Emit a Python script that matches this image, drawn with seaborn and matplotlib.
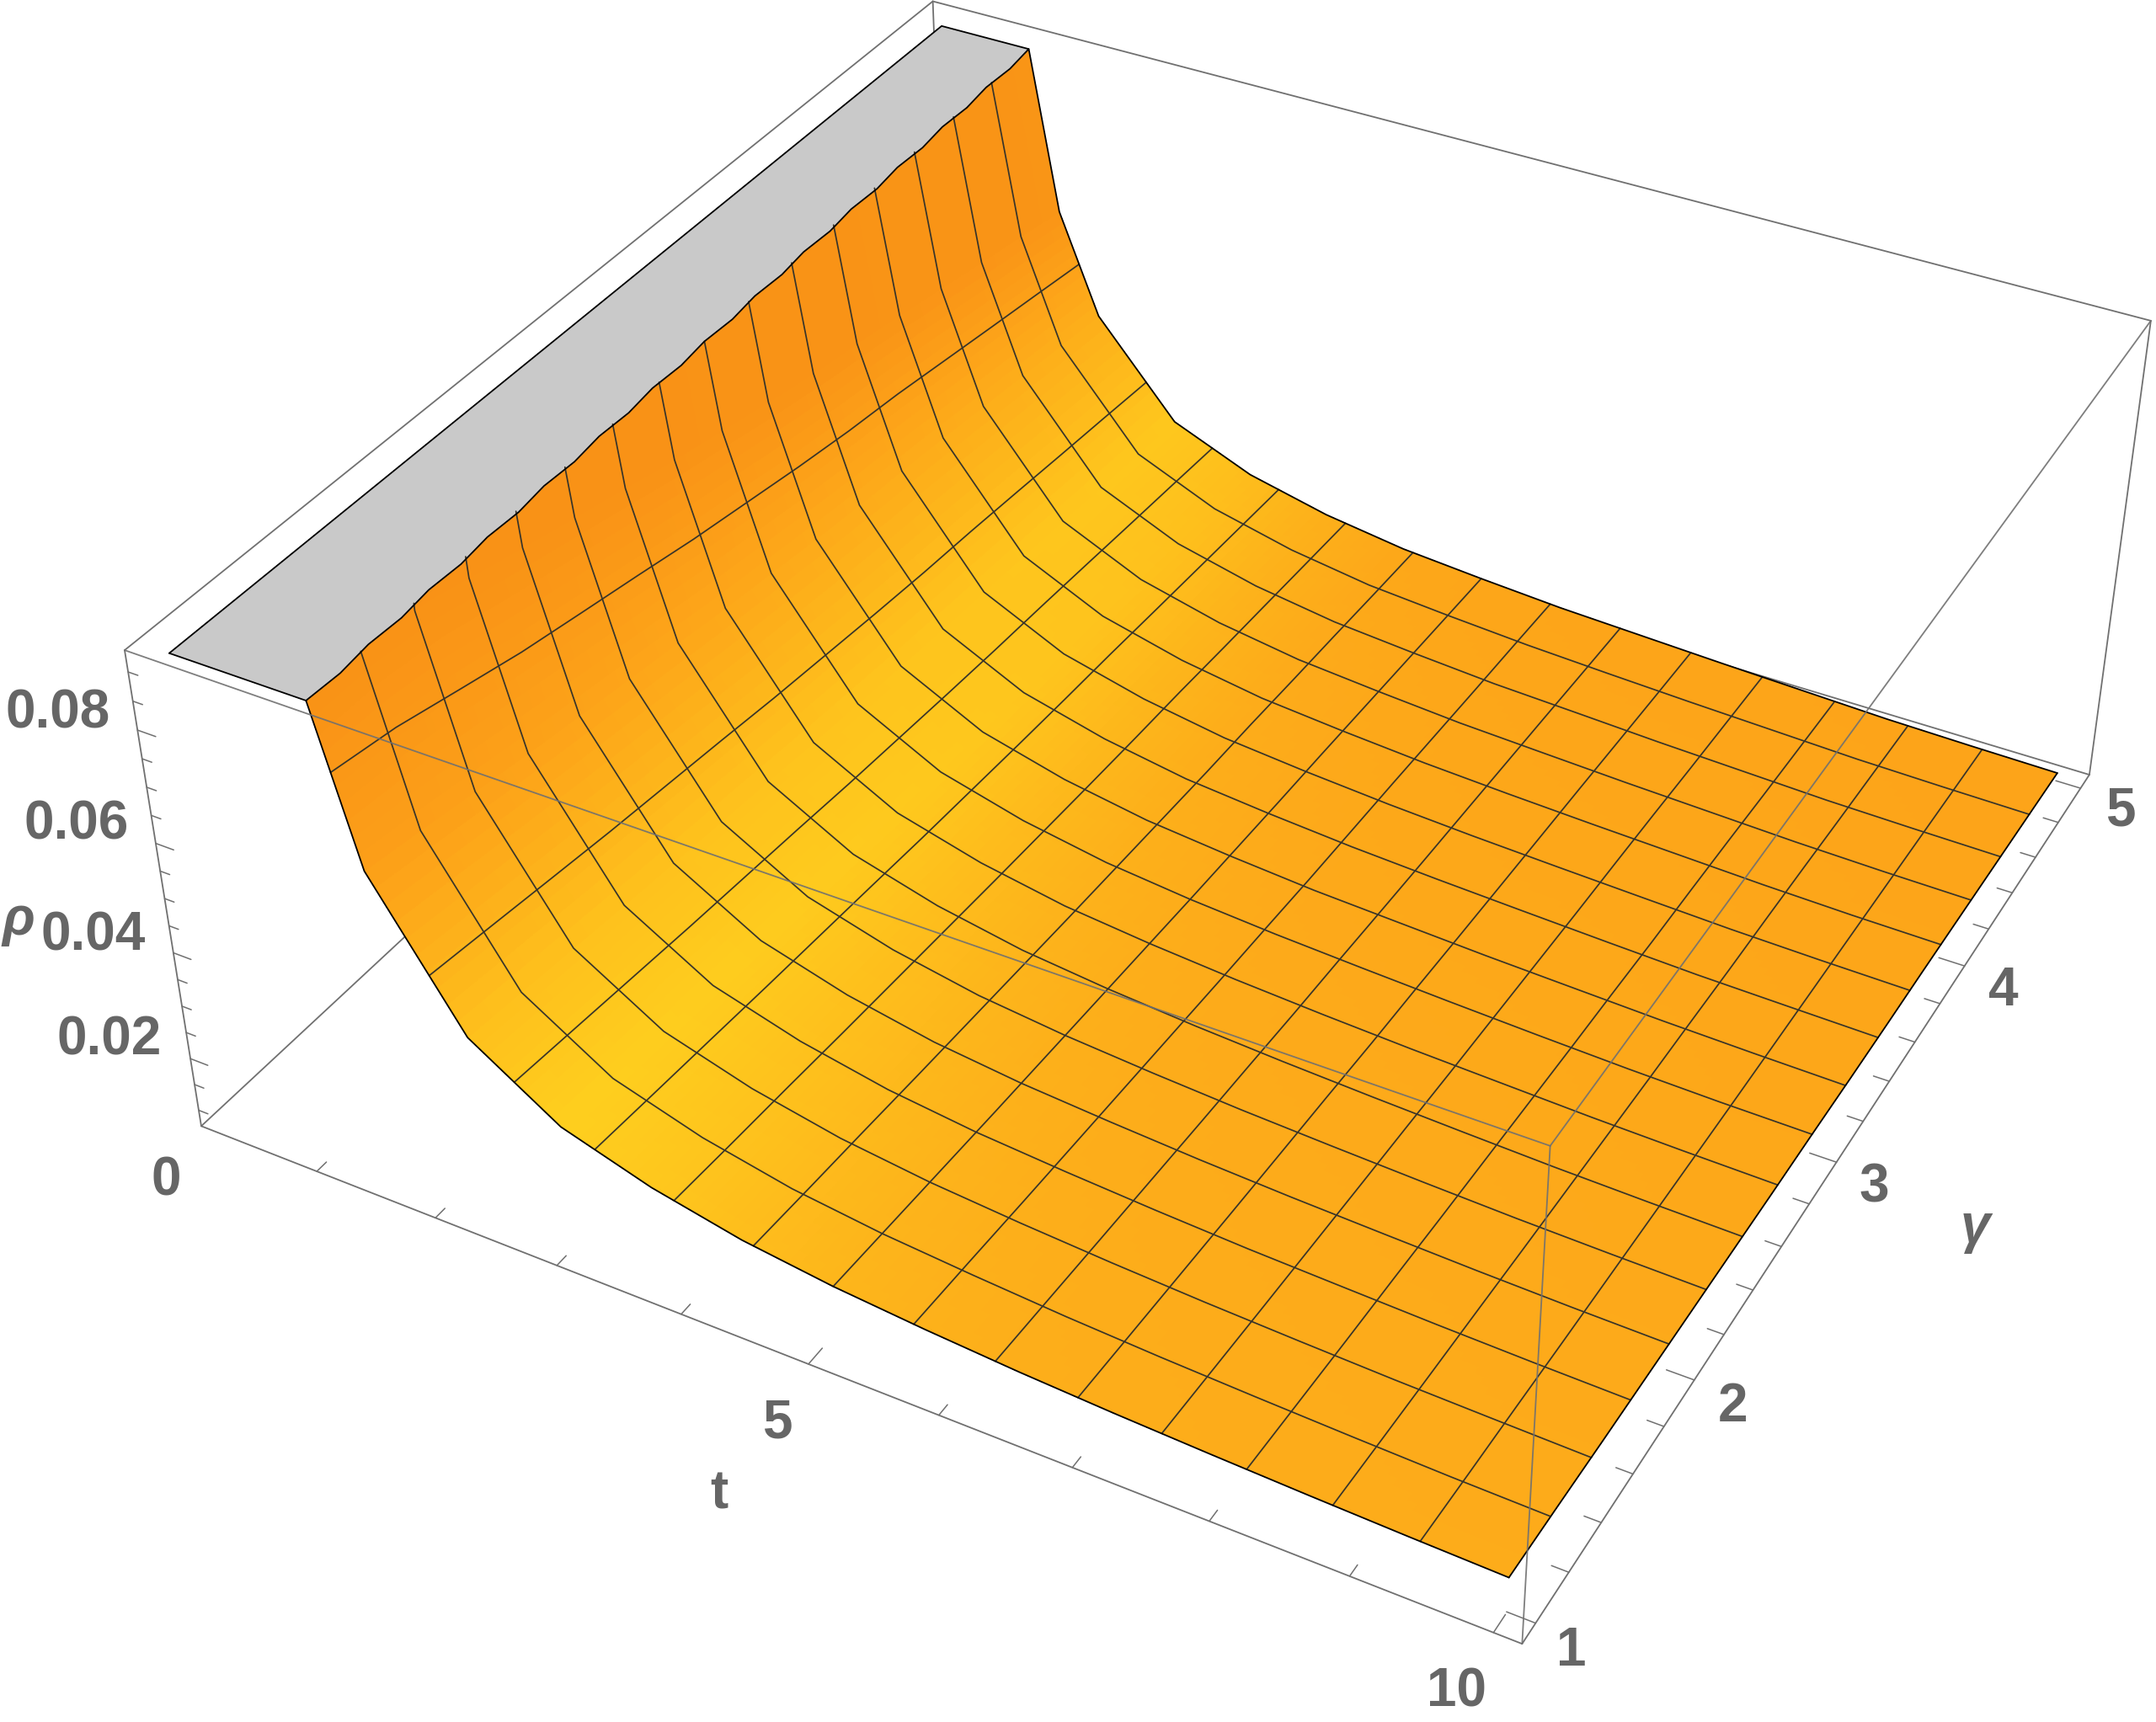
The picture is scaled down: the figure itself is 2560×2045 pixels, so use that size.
import numpy as np
import matplotlib
matplotlib.use("Agg")
import matplotlib.pyplot as plt
import seaborn as sns

# rho(t, gamma), rows are gamma values, columns are t values
t_values = [1.25, 1.6, 2.3, 3.0, 3.7, 4.4, 5.1, 5.8, 6.5, 7.2, 7.9, 8.6, 9.3, 10.0]
gamma_values = [1.0, 1.2857, 1.5714, 1.8571, 2.1429, 2.4286, 2.7143, 3.0,
                3.2857, 3.5714, 3.8571, 4.1429, 4.4286, 4.7143, 5.0]
rho_values = [
    [.0965, .0648, .0405, .0300, .0249, .0214, .0192, .0177, .0165, .0156, .0149, .0143, .0138, .0134],
    [.0934, .0629, .0392, .0291, .0241, .0207, .0186, .0172, .0160, .0151, .0144, .0138, .0133, .0130],
    [.0903, .0609, .0379, .0282, .0234, .0201, .0180, .0166, .0155, .0146, .0139, .0133, .0129, .0125],
    [.0872, .0590, .0366, .0273, .0226, .0194, .0174, .0161, .0150, .0141, .0135, .0129, .0124, .0121],
    [.0844, .0573, .0355, .0265, .0219, .0188, .0169, .0156, .0145, .0137, .0130, .0124, .0120, .0117],
    [.0817, .0556, .0344, .0257, .0212, .0182, .0164, .0151, .0141, .0133, .0126, .0120, .0116, .0113],
    [.0789, .0538, .0332, .0248, .0205, .0176, .0159, .0146, .0136, .0128, .0122, .0116, .0112, .0109],
    [.0765, .0523, .0322, .0241, .0199, .0171, .0154, .0142, .0133, .0125, .0118, .0112, .0108, .0106],
    [.0741, .0508, .0312, .0234, .0193, .0166, .0150, .0137, .0129, .0121, .0115, .0109, .0105, .0102],
    [.0720, .0495, .0303, .0228, .0188, .0161, .0146, .0134, .0125, .0118, .0111, .0105, .0102, .0099],
    [.0703, .0485, .0296, .0223, .0184, .0158, .0143, .0131, .0122, .0115, .0109, .0103, .0099, .0097],
    [.0682, .0472, .0288, .0217, .0178, .0153, .0139, .0127, .0119, .0112, .0106, .0100, .0096, .0094],
    [.0661, .0459, .0279, .0211, .0173, .0149, .0135, .0123, .0116, .0108, .0102, .0096, .0093, .0091],
    [.0641, .0446, .0271, .0205, .0168, .0144, .0131, .0120, .0112, .0105, .0099, .0093, .0090, .0088],
    [.0620, .0433, .0262, .0199, .0163, .0140, .0127, .0116, .0109, .0102, .0096, .0090, .0087, .0085],
]
# t at which each gamma row reaches the top clip of the plot
clip_t = [1.300, 1.279, 1.257, 1.236, 1.214, 1.193, 1.171, 1.150,
          1.129, 1.107, 1.086, 1.064, 1.043, 1.021, 1.000]
rho_top = 0.0920
t_start = 0.2

t_major = [5, 10]
t_minor = [1, 2, 3, 4, 6, 7, 8, 9]
gamma_major = [1, 2, 3, 4, 5]
gamma_minor = [1.2, 1.4, 1.6, 1.8, 2.2, 2.4, 2.6, 2.8, 3.2, 3.4, 3.6, 3.8, 4.2, 4.4, 4.6, 4.8]
rho_major = [0.02, 0.04, 0.06, 0.08]
rho_minor = [0.01, 0.015, 0.025, 0.03, 0.035, 0.045, 0.05, 0.055, 0.065, 0.07, 0.075, 0.085, 0.09]
mesh_t = [0.2 + 0.6125 * k for k in range(2, 16)]
mesh_gamma = [1 + 0.25 * j for j in range(1, 16)]

# box limits
T0, T1 = 0.004, 10.196
G0, G1 = 0.92, 5.08
R0, R1 = 0.0069, 0.0937

# label text and where it sits in the 2560x2045 picture
labels = [("0.08", 69, 841), ("0.06", 91, 973), ("0.04", 111, 1105), ("0.02", 130, 1229),
          ("0", 197, 1396), ("5", 923, 1684), ("t", 854, 1768), ("10", 1730, 2003),
          ("1", 1866, 1954), ("2", 2058, 1664), ("3", 2225, 1404), ("4", 2379, 1170), ("5", 2518, 957)]
greek_labels = [("ρ", 22, 1087), ("γ", 2345, 1452)]

sns.set_theme(style="white")
plt.rcParams["font.family"] = ["Liberation Sans", "DejaVu Sans"]

W, H = 2560, 2045
fig = plt.figure(figsize=(W / 100, H / 100), dpi=100)
# square axes as wide as the figure, so nothing gets clipped
ax = fig.add_axes([0, (1 - W / H) / 2, 1, W / H], projection="3d", computed_zorder=False)
ax.set_axis_off()
ax.set_xlim(T0, T1, view_margin=0)
ax.set_ylim(G0, G1, view_margin=0)
ax.set_zlim(R0, R1, view_margin=0)

# camera fitted to the box corners and ticks (mathematica perspective, pixels, y down)
cam = np.array([[1420.22, 1439.57, -114.423, -3.40225],
                [407.283, -911.787, -698.67, 1612.13],
                [-0.120215, 0.274085, -0.0802176, 1.0]])
cam[:, :3] = cam[:, :3] / np.array([T1, G1, R1])
ax.apply_aspect()
inv = ax.transData.inverted()
v0 = inv.transform((0, H))
v1 = inv.transform((W, 0))
sx = (v1[0] - v0[0]) / W
sy = (v1[1] - v0[1]) / H
# third row keeps depth negative, mplot3d masks line points with depth > 0
M = np.array([v0[0] * cam[2] + sx * cam[0],
              v0[1] * cam[2] + sy * cam[1],
              [0, 0, 0, -0.5],
              cam[2]])
ax.get_proj = lambda: M

# surface vertices, first column sits on the clip
rho = np.array(rho_values)
gam = np.array(gamma_values)
clip = np.array(clip_t)
X = np.column_stack([clip, np.maximum(np.array(t_values)[None, :].repeat(len(gam), 0).T, clip).T])
Z = np.column_stack([np.full(len(gam), rho_top), np.minimum(rho, rho_top)])
Y = np.repeat(gam[:, None], X.shape[1], axis=1)

# slope based colour, yellow in the bend and orange on the wall and on the flat part
dt = np.maximum(X[:, 2:] - X[:, :-2], 1e-3)
slope = (Z[:, :-2] - Z[:, 2:]) / dt
slope = np.column_stack([slope[:, 0], slope, slope[:, -1]])
theta = np.degrees(np.arctan(slope * 117))

near_theta = [0, 10, 17, 33, 40, 60, 71, 76, 82, 88]
near_green = [170, 174, 182, 196, 205, 208, 192, 182, 152, 138]
far_theta = [0, 19, 31, 46, 63, 70, 78, 85, 88]
far_green = [163, 168, 180, 195, 200, 190, 170, 145, 133]


def refine(A, n=10):
    # only for drawing: split each table cell so the colour changes smoothly
    rows = np.arange(A.shape[0])
    cols = np.arange(A.shape[1])
    fr = np.linspace(0, rows[-1], rows[-1] * n + 1)
    fc = np.linspace(0, cols[-1], cols[-1] * n + 1)
    B = np.array([np.interp(fc, cols, r) for r in A])
    return np.array([np.interp(fr, rows, c) for c in B.T]).T


green = np.zeros_like(theta)
for i, g in enumerate(gam):
    w = (g - 1) / 4
    green[i] = (1 - w) * np.interp(theta[i], near_theta, near_green) + w * np.interp(theta[i], far_theta, far_green)
green_f = refine(green)
red_f = np.interp(green_f, [133, 165, 205], [246, 253, 254])
blue_f = np.interp(green_f, [133, 165, 205], [20, 25, 30])
colors = np.dstack([red_f, green_f, blue_f]) / 255
colors = (colors[:-1, :-1] + colors[1:, 1:]) / 2

ax.plot_surface(refine(X), refine(Y), refine(Z), facecolors=colors, rstride=1, cstride=1,
                shade=False, linewidth=0, antialiased=False, zorder=3)

# grey cap where the surface is clipped, with the small scallops along its edge
edge_g = np.linspace(1, 5, 29)
edge_t = np.interp(edge_g, gam, clip)
edge_t[1::2] += 0.022
cap_t = np.r_[[t_start, t_start], edge_t[::-1]]
cap_g = np.r_[[1, 5], edge_g[::-1]]
ax.plot_surface(np.vstack([np.full(29, t_start), edge_t]), np.vstack([edge_g, edge_g]), np.full((2, 29), rho_top),
                color="#c9c9c9", rstride=1, cstride=1, shade=False, linewidth=0, antialiased=False, zorder=4)

line_grey = "#707070"
box_kw = dict(color=line_grey, lw=1.3)
# back edges go under the surface
for a, b in [((T0, G0, R0), (T1, G0, R0)), ((T1, G0, R0), (T1, G1, R0)), ((T1, G1, R0), (T0, G1, R0)),
             ((T0, G1, R0), (T0, G0, R0)), ((T0, G0, R0), (T0, G0, R1)), ((T0, G1, R0), (T0, G1, R1)),
             ((T1, G1, R0), (T1, G1, R1)), ((T0, G0, R1), (T0, G1, R1)), ((T0, G1, R1), (T1, G1, R1))]:
    ax.plot(*zip(a, b), zorder=1, **box_kw)

# mesh
mesh_kw = dict(color="#38342a", lw=1.25, zorder=5)
for tk in mesh_t:
    ax.plot(np.full(len(gam), tk), gam, [np.interp(tk, X[i], Z[i]) for i in range(len(gam))], **mesh_kw)
for gk in mesh_gamma:
    pos = np.interp(gk, gam, np.arange(len(gam)))
    i = min(int(pos), len(gam) - 2)
    a = pos - i
    ax.plot((1 - a) * X[i] + a * X[i + 1], np.full(X.shape[1], gk), (1 - a) * Z[i] + a * Z[i + 1], **mesh_kw)

# outline of surface and cap
out_kw = dict(color="black", lw=1.3, zorder=6, solid_joinstyle="round")
ax.plot(X[0], Y[0], Z[0], **out_kw)
ax.plot(X[-1], Y[-1], Z[-1], **out_kw)
ax.plot(X[:, -1], Y[:, -1], Z[:, -1], **out_kw)
ax.plot(cap_t, cap_g, np.full(len(cap_t), rho_top), **out_kw)
ax.plot([t_start, clip[0]], [1, 1], [rho_top, rho_top], **out_kw)

# front edges are drawn over the surface
for a, b in [((T0, G0, R1), (T1, G0, R1)), ((T1, G0, R1), (T1, G1, R1)), ((T1, G0, R1), (T1, G0, R0))]:
    ax.plot(*zip(a, b), color=line_grey, lw=1.3, alpha=0.9, zorder=7)

# ticks
tick_kw = dict(color=line_grey, lw=1.1, zorder=2)
for tv in t_minor + t_major:
    dg = 0.07 if tv in t_major else 0.045
    ax.plot([tv, tv], [G0, G0 + dg], [R0, R0], **tick_kw)
for gv in gamma_minor + gamma_major:
    dtk = 0.2 if gv in gamma_major else 0.12
    ax.plot([T1, T1 - dtk], [gv, gv], [R0, R0], **tick_kw)
for rv in rho_minor + rho_major:
    dtk = 0.15 if rv in rho_major else 0.08
    ax.plot([T0, T0 + dtk], [G0, G0], [rv, rv], **tick_kw)

# text
text_kw = dict(fontsize=46, fontweight="bold", color="#666666", ha="center", va="center_baseline")
for s, x, y in labels:
    fig.text(x / W, 1 - y / H, s, **text_kw)
for s, x, y in greek_labels:
    fig.text(x / W, 1 - y / H, s, fontstyle="italic", **text_kw)

fig.savefig("out.png", dpi=100, facecolor="white")
